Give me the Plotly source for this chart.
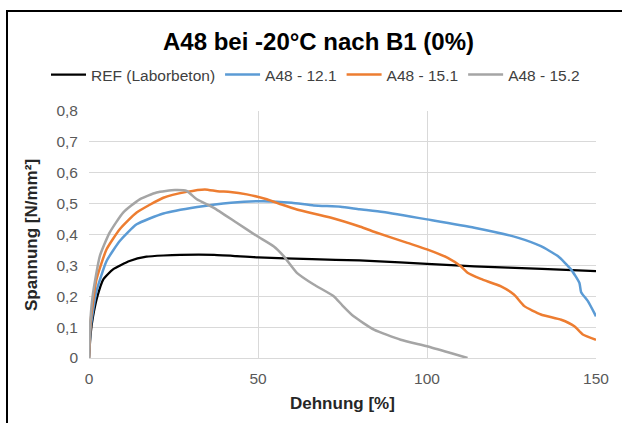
import plotly.graph_objects as go

# Data
ref_x = [0, 0.5, 1.2, 2.5, 4.2, 7.1, 12, 17, 22, 27, 37, 50, 66, 80, 92, 100, 114, 134, 150]
ref_y = [0, 0.08, 0.135, 0.2, 0.254, 0.287, 0.314, 0.328, 0.332, 0.334, 0.334, 0.326, 0.32, 0.316, 0.31, 0.305, 0.297, 0.289, 0.281]

s121_x = [0, 0.5, 2.2, 5.2, 9.1, 14.1, 22, 32, 42, 51.6, 60, 66.5, 74.4, 80, 87, 100, 114, 126.8, 133.7, 138.7, 142.6, 145.1, 145.6, 147.6, 150]
s121_y = [0, 0.1, 0.216, 0.314, 0.379, 0.433, 0.468, 0.489, 0.503, 0.508, 0.503, 0.494, 0.49, 0.482, 0.473, 0.449, 0.422, 0.39, 0.362, 0.33, 0.287, 0.243, 0.213, 0.184, 0.135]

s151_x = [0, 0.5, 2.2, 5.2, 9.1, 14.1, 22, 28.9, 34.3, 38, 41.8, 46.7, 52.6, 57, 61.5, 71.4, 80.3, 84.3, 94.2, 100, 106, 110, 112, 115.9, 121.9, 125.8, 128.8, 133.7, 139.7, 143.6, 146.1, 150]
s151_y = [0, 0.12, 0.254, 0.352, 0.417, 0.471, 0.519, 0.538, 0.546, 0.54, 0.538, 0.53, 0.514, 0.497, 0.481, 0.455, 0.425, 0.409, 0.373, 0.352, 0.325, 0.297, 0.276, 0.256, 0.232, 0.205, 0.168, 0.141, 0.124, 0.103, 0.076, 0.059]

s152_x = [0, 0.4, 1.2, 3.2, 6.1, 10.1, 15, 20, 25.4, 28.9, 31.9, 36.8, 43.7, 49.7, 54.6, 57.6, 61.5, 66.5, 72.4, 75, 78.3, 84.3, 92.2, 100, 107, 112]
s152_y = [0, 0.12, 0.211, 0.33, 0.406, 0.471, 0.514, 0.536, 0.544, 0.541, 0.514, 0.487, 0.438, 0.395, 0.362, 0.33, 0.276, 0.238, 0.2, 0.17, 0.135, 0.092, 0.059, 0.038, 0.016, 0]

series_names = ["REF (Laborbeton)", "A48 - 12.1", "A48 - 15.1", "A48 - 15.2"]
series_x = [ref_x, s121_x, s151_x, s152_x]
series_y = [ref_y, s121_y, s151_y, s152_y]
series_colors = ["#000000", "#5B9BD5", "#ED7D31", "#A5A5A5"]
series_widths = [2.25, 2.5, 2.5, 2.5]

x_ticks = [0, 50, 100, 150]
y_ticks = [0, 0.1, 0.2, 0.3, 0.4, 0.5, 0.6, 0.7, 0.8]
y_tick_labels = ["0", "0,1", "0,2", "0,3", "0,4", "0,5", "0,6", "0,7", "0,8"]

fig = go.Figure()
for name, xs, ys, col, w in zip(series_names, series_x, series_y, series_colors, series_widths):
    fig.add_trace(go.Scatter(x=xs, y=ys, name=name, mode="lines",
                             line=dict(color=col, width=w, shape="spline", smoothing=0.5)))

font = "Liberation Sans, Arial, sans-serif"
L, R, T, B = 89, 596, 111, 358
W, H = R - L, B - T


def px(xp):
    return (xp - L) / W


def py(yp):
    return (B - yp) / H


fig.update_layout(
    width=622, height=423,
    margin=dict(l=L, r=622 - R, t=T, b=423 - B),
    paper_bgcolor="white", plot_bgcolor="white",
    separators=",.",
    font=dict(family=font, size=15.5, color="#595959"),
    showlegend=True,
    legend=dict(orientation="h", x=px(46), xanchor="left", y=py(75), yanchor="middle",
                font=dict(size=15.5, color="#404040"), itemwidth=35, tracegroupgap=0,
                bgcolor="rgba(0,0,0,0)"),
    xaxis=dict(range=[0, 150], tickvals=x_ticks, showgrid=True, gridcolor="#D9D9D9",
               gridwidth=1, zeroline=False, showline=True, linecolor="#D9D9D9",
               ticks="", ticklabelstandoff=6, automargin=False,
               tickfont=dict(size=15.5, color="#595959")),
    yaxis=dict(range=[0, 0.8], tickvals=y_ticks, ticktext=y_tick_labels, showgrid=True,
               gridcolor="#D9D9D9", gridwidth=1, zeroline=False, showline=False,
               ticks="", ticklabelstandoff=10, automargin=False,
               tickfont=dict(size=15.5, color="#595959")),
    annotations=[
        dict(text="<b>A48 bei -20°C nach B1 (0%)</b>", xref="paper", yref="paper",
             x=px(318), y=py(42), xanchor="center", yanchor="middle",
             showarrow=False, font=dict(size=24, color="#000000", family=font)),
        dict(text="<b>Dehnung [%]</b>", xref="paper", yref="paper",
             x=px(342), y=py(403), xanchor="center", yanchor="middle",
             showarrow=False, font=dict(size=17, color="#262626", family=font)),
        dict(text="<b>Spannung [N/mm²]</b>", xref="paper", yref="paper",
             x=px(31), y=py(235), xanchor="center", yanchor="middle", textangle=-90,
             showarrow=False, font=dict(size=17, color="#262626", family=font)),
    ],
    shapes=[
        dict(type="rect", xref="paper", yref="paper",
             x0=px(7), x1=px(640), y0=py(440), y1=py(11),
             line=dict(color="#000000", width=2), fillcolor="rgba(0,0,0,0)", layer="below"),
    ],
)

fig.write_html("out.html", config={"displayModeBar": False},
               post_script="document.body.style.margin='0';")
